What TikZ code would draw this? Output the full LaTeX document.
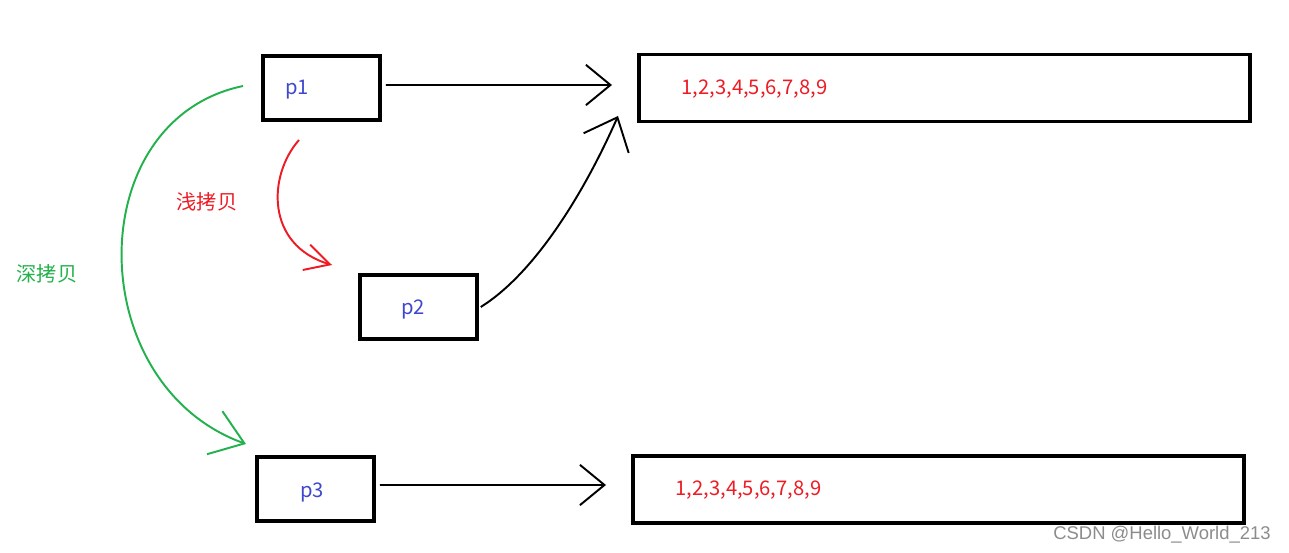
\documentclass[tikz,border=0pt]{standalone}
\usepackage{fontspec}
\setmainfont{Noto Sans CJK SC}
\newfontfamily\markfont{Liberation Sans}
\usepackage{xcolor}
\usetikzlibrary{arrows.meta,calc}

\definecolor{paintred}{HTML}{ED1C24}
\definecolor{paintgreen}{HTML}{22B14C}
\definecolor{paintblue}{HTML}{3F48CC}

\begin{document}
\begin{tikzpicture}[
    x=0.02cm, y=-0.02cm,
    ptr/.style={rectangle, draw, line width=2pt, minimum width=117*0.02cm, minimum height=64*0.02cm, inner sep=0pt},
    store/.style={rectangle, draw, line width=2pt, minimum width=611*0.02cm, minimum height=67*0.02cm, inner sep=0pt},
    pname/.style={text=paintblue, font=\fontsize{11.5}{13}\selectfont},
    nums/.style={text=paintred, font=\fontsize{11.5}{13}\selectfont},
    handtip/.style 2 args={-{Straight Barb[length=#1, width=#2]}},
]
\useasboundingbox (0,0) rectangle (1289,553);

% Pointers
\node[ptr, label={[pname, xshift=-0.49cm, yshift=-0.03cm]center:p1}] (p1) at (321.5,88) {};
\node[ptr, label={[pname, xshift=-0.11cm, yshift=-0.05cm]center:p2}] (p2) at (418.5,307) {};
\node[ptr, label={[pname, xshift=-0.07cm, yshift=-0.07cm]center:p3}] (p3) at (315.5,489) {};

% Data blocks
\node[store, label={[nums, yshift=-0.02cm, xshift=-3.8cm]center:1,2,3,4,5,6,7,8,9}] (data1) at (944.5,88) {};
\node[store, label={[nums, yshift=-0.02cm, xshift=-3.8cm]center:1,2,3,4,5,6,7,8,9}] (data2) at (938.5,489.5) {};

% Arrow ends
\coordinate (tip1) at (612,85);
\coordinate (tip2) at (618,116);
\coordinate (tip3) at (606,485);
\coordinate (shallowfrom) at (299,140);
\coordinate (shallowto) at (332,265);
\coordinate (deepfrom) at (243,86);
\coordinate (deepto) at (246,444);

% Black pointers to data
\draw[line width=1.1pt, handtip={14pt}{23pt}] ([xshift=0.08cm, yshift=0.06cm]p1.east) -- (tip1);
\draw[line width=1.1pt, handtip={16pt}{28pt}] ([xshift=0.04cm]p2.east) .. controls (540,270) and (590,180) .. (tip2);
\draw[line width=1.1pt, handtip={14pt}{23pt}] ([xshift=0.08cm, yshift=0.08cm]p3.east) -- (tip3);

% Shallow copy
\draw[paintred, line width=1.1pt, handtip={14pt}{15pt}] (shallowfrom) .. controls (268,175) and (265,245) .. (shallowto);
\node[text=paintred, font=\fontsize{11.5}{13}\selectfont] (shallow) at (207,202) {浅拷贝};

% Deep copy
\draw[paintgreen, line width=1.1pt, handtip={18pt}{26pt}] (deepfrom) .. controls (80,120) and (82,385) .. (deepto);
\node[text=paintgreen, font=\fontsize{11.5}{13}\selectfont] (deep) at (47,274) {深拷贝};

% Watermark
\node[text=black!45, font=\markfont\fontsize{10.5}{12}\selectfont] (mark) at (1162,535) {CSDN @Hello\_World\_213};

\end{tikzpicture}
\end{document}
